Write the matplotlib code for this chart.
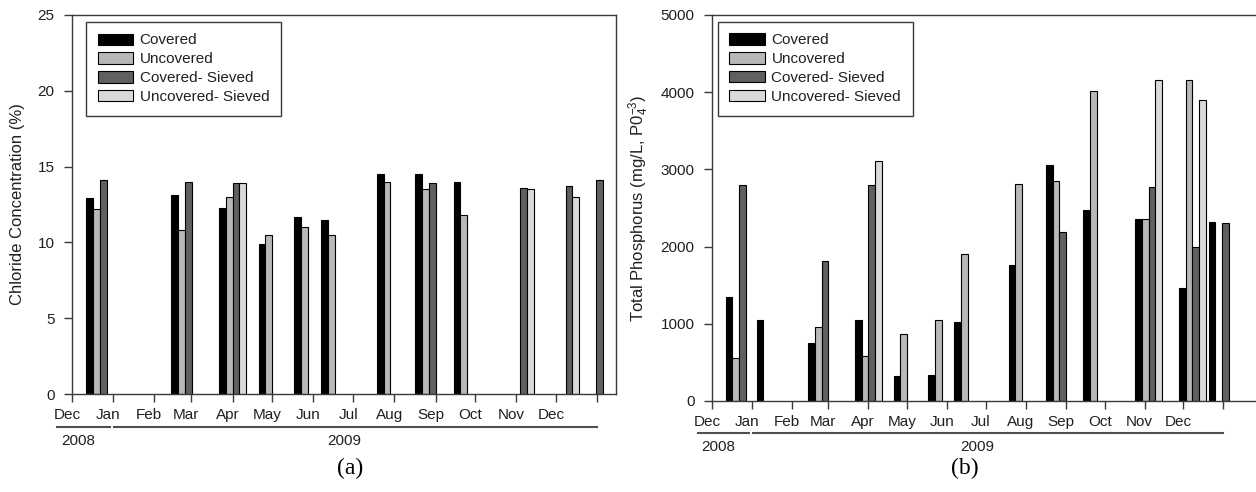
import numpy as np
import matplotlib
matplotlib.use("Agg")
import matplotlib.pyplot as plt
import matplotlib.dates as mdates
from matplotlib.ticker import FixedLocator, NullFormatter, MultipleLocator
from matplotlib.transforms import blended_transform_factory, ScaledTranslation
from matplotlib.patches import Patch
from matplotlib.lines import Line2D
from datetime import date

plt.rcParams["font.family"] = ["Liberation Sans", "DejaVu Sans"]
plt.rcParams["mathtext.default"] = "regular"

# Sampling dates (one group of bars per date)
sample_dates = ["2008-12-22", "2009-01-15", "2009-02-24", "2009-04-01", "2009-05-01",
                "2009-05-28", "2009-06-17", "2009-07-29", "2009-08-27", "2009-09-25",
                "2009-11-04", "2009-12-08", "2009-12-31"]

series_names = ["Covered", "Uncovered", "Covered- Sieved", "Uncovered- Sieved"]
series_colors = ["#000000", "#b8b8b8", "#606060", "#d9d9d9"]

nan = np.nan
# (a) Chloride concentration, %
chloride_covered = [12.9, nan, 13.1, 12.3, 9.9, 11.7, 11.5, 14.5, 14.5, 14.0, nan, nan, nan]
chloride_uncovered = [12.2, nan, 10.8, 13.0, 10.5, 11.0, 10.5, 14.0, 13.5, 11.8, nan, nan, nan]
chloride_cov_sieved = [14.1, nan, 14.0, 13.9, nan, nan, nan, nan, 13.9, nan, 13.6, 13.75, 14.1]
chloride_unc_sieved = [nan, nan, nan, 13.9, nan, nan, nan, nan, nan, nan, 13.5, 13.0, nan]

# (b) Total phosphorus, mg/L PO4
phos_covered = [1345, 1050, 750, 1050, 323, 336, 1020, 1767, 3056, 2474, 2358, 1470, 2320]
phos_uncovered = [556, nan, 957, 586, 862, 1052, 1900, 2810, 2850, 4020, 2358, 4155, nan]
phos_cov_sieved = [2797, nan, 1819, 2800, nan, nan, nan, nan, 2190, nan, 2770, 2000, 2300]
phos_unc_sieved = [nan, nan, nan, 3105, nan, nan, nan, nan, nan, nan, 4155, 3900, nan]

axis_start = date(2008, 12, 1)
month_starts = [date(2008, 12, 1)] + [date(2009, m, 1) for m in range(1, 13)] + [date(2010, 1, 1)]
labelled_months = month_starts[:-1]
year_spans = [("2008", date(2008, 11, 20), date(2008, 12, 30)),
              ("2009", date(2009, 1, 2), date(2010, 1, 1))]
year_label_dates = {"2008": date(2008, 12, 6), "2009": date(2009, 6, 24)}

frame_color = "#3a3a3a"
text_color = "#202020"
bar_width = 5.2  # days
tick_fs = 11

fig = plt.figure(figsize=(12.56, 4.92), dpi=100)


def below_axes(ax, dx_px, dy_px):
    """x in data units, y measured in pixels below the bottom of the axes."""
    return blended_transform_factory(ax.transData, ax.transAxes) + \
        ScaledTranslation(dx_px / 100, -dy_px / 100, fig.dpi_scale_trans)


def draw_panel(rect, values, ylim, ystep, ylabel, xmax_days, right_spine,
               legend_anchor, ylabel_x, line_dy, label_dy):
    ax = fig.add_axes(rect)
    x0 = mdates.date2num(np.array([np.datetime64(d) for d in sample_dates]))
    for i, (vals, name, col) in enumerate(zip(values, series_names, series_colors)):
        ax.bar(x0 + (i - 1.5) * bar_width, vals, width=bar_width, color=col,
               edgecolor="black", linewidth=0.8, label=name, zorder=2)

    start = mdates.date2num(axis_start)
    ax.set_xlim(start, start + xmax_days)
    ax.set_ylim(*ylim)

    # month ticks at month starts; the names sit just left of each tick
    ax.xaxis.set_major_locator(FixedLocator(mdates.date2num(month_starts)))
    ax.xaxis.set_major_formatter(NullFormatter())
    ax.tick_params(axis="x", which="major", direction="out", length=6,
                   width=1.0, color=frame_color)
    for d in labelled_months:
        ax.text(mdates.date2num(d), 0, d.strftime("%b"),
                transform=below_axes(ax, -5, 21), ha="center", va="center",
                fontsize=tick_fs, color=text_color)

    ax.yaxis.set_major_locator(MultipleLocator(ystep))
    ax.tick_params(axis="y", direction="out", length=6, width=1.0, pad=6.5,
                   color=frame_color, labelsize=tick_fs, labelcolor=text_color)

    for sp in ax.spines.values():
        sp.set_color(frame_color)
        sp.set_linewidth(1.0)
    ax.spines["right"].set_visible(right_spine)

    ax.set_ylabel(ylabel, fontsize=12, color=text_color)
    ax.yaxis.set_label_coords(ylabel_x, 0.5)

    # year brackets under the month names
    for year, d0, d1 in year_spans:
        ax.add_line(Line2D(mdates.date2num([d0, d1]), [0, 0],
                           transform=below_axes(ax, 0, line_dy),
                           color="#505050", linewidth=1.5, clip_on=False))
        ax.text(mdates.date2num(year_label_dates[year]), 0, year,
                transform=below_axes(ax, 0, label_dy),
                ha="center", va="center", fontsize=tick_fs, color=text_color)

    handles = [Patch(facecolor=c, edgecolor="black", linewidth=0.8) for c in series_colors]
    leg = ax.legend(handles, series_names, loc="upper left", bbox_to_anchor=legend_anchor,
                    borderaxespad=0, fontsize=11, frameon=True, fancybox=False,
                    framealpha=1, edgecolor=frame_color, handlelength=2.3,
                    handleheight=0.75, handletextpad=0.45, labelspacing=0.32,
                    borderpad=0.75)
    leg.get_frame().set_linewidth(1.0)
    for t in leg.get_texts():
        t.set_color(text_color)
    return ax


ax_a = draw_panel([72 / 1256, 98 / 492, 544 / 1256, 379 / 492],
                  [chloride_covered, chloride_uncovered, chloride_cov_sieved, chloride_unc_sieved],
                  (0, 25), 5, "Chloride Concentration (%)", 410, True,
                  (0.026, 0.9815), -0.086, 33, 47)

ax_b = draw_panel([712 / 1256, 91 / 492, 544 / 1256, 386 / 492],
                  [phos_covered, phos_uncovered, phos_cov_sieved, phos_unc_sieved],
                  (0, 5000), 1000, r"Total Phosphorus (mg/L, P0$_4^{-3}$)", 421.2, False,
                  (0.011, 0.982), -0.112, 32, 46)

fig.text(350 / 1256, 1 - 468 / 492, "(a)", ha="center", va="center",
         fontsize=17, family=["Liberation Serif", "DejaVu Serif"], color="black")
fig.text(965 / 1256, 1 - 468 / 492, "(b)", ha="center", va="center",
         fontsize=17, family=["Liberation Serif", "DejaVu Serif"], color="black")

fig.savefig("out.png", dpi=100)
